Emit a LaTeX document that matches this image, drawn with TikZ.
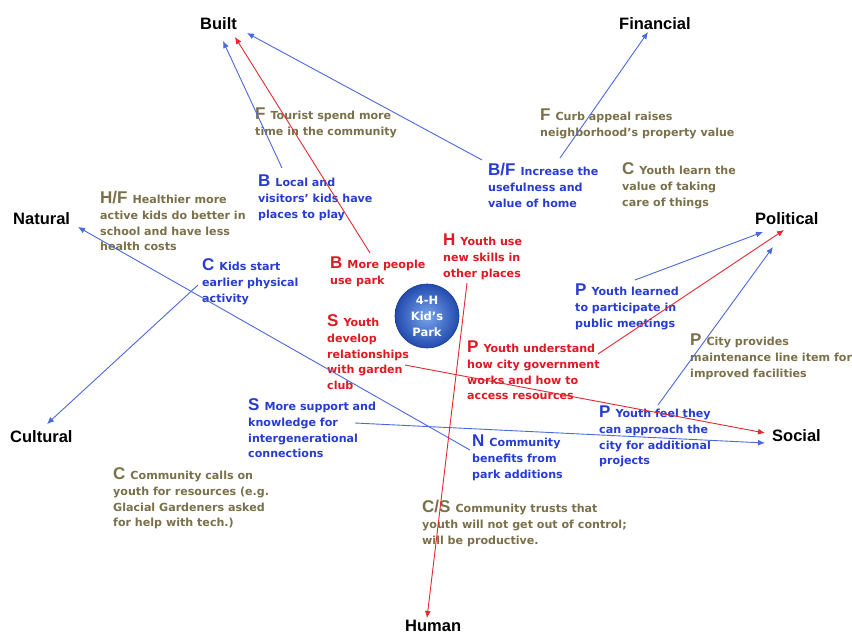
\documentclass[tikz,border=0pt]{standalone}
\usepackage{fontspec}
\setmainfont{DejaVu Sans}
\newfontfamily\bodyfont{DejaVu Sans}
\newfontfamily\headfont{Liberation Sans}
\usetikzlibrary{arrows.meta,shadings}

\definecolor{olv}{RGB}{122,112,74}
\definecolor{blu}{RGB}{40,60,210}
\definecolor{rd}{RGB}{222,25,35}
\definecolor{bline}{RGB}{75,105,220}
\definecolor{rline}{RGB}{228,40,50}
\definecolor{parkin}{RGB}{120,165,235}
\definecolor{parkout}{RGB}{35,75,175}

\newcommand{\pfx}[1]{{\headfont\bfseries\fontsize{17}{17}\selectfont #1}\kern5pt}
\newcommand{\blk}[1]{\begin{tabular}[t]{@{}l@{}}#1\end{tabular}}

\tikzset{
  x=1pt, y=-1pt,
  txt/.style={anchor=base west, inner sep=0pt, font=\bodyfont\bfseries\fontsize{11.1}{15.8}\selectfont},
  otxt/.style={txt, text=olv},
  btxt/.style={txt, text=blu},
  rtxt/.style={txt, text=rd},
  head/.style={anchor=base west, inner sep=0pt, font=\headfont\bfseries\fontsize{16.5}{18}\selectfont, text=black},
  barrow/.style={draw=bline, line width=0.9pt, -{Latex[length=7pt,width=6pt]}},
  rarrow/.style={draw=rline, line width=0.9pt, -{Latex[length=7pt,width=6pt]}},
}

\begin{document}
\begin{tikzpicture}
\useasboundingbox[fill=white] (0,0) rectangle (852,635);

% capitals
\node[head] (built) at (200,29) {Built};
\node[head] (financial) at (619,29) {Financial};
\node[head] (natural) at (13,224) {Natural};
\node[head] (political) at (755,224) {Political};
\node[head] (cultural) at (10,442) {Cultural};
\node[head] (social) at (772,441) {Social};
\node[head] (human) at (405,631) {Human};

% centre
\node[circle, minimum size=64pt, inner sep=0pt, shading=radial, inner color=parkin, outer color=parkout,
      draw=parkout!80!black, line width=0.6pt, text=white, align=center,
      font=\bodyfont\bfseries\fontsize{11.5}{16}\selectfont] (park) at (427,316) {4-H\\Kid’s\\Park};

% text blocks
\node[otxt] (t1) at (255,119.5) {\blk{\pfx{F}Tourist spend more\\time in the community}};
\node[btxt] (t2) at (258,186.5) {\blk{\pfx{B}Local and\\visitors’ kids have\\places to play}};
\node[otxt] (t3) at (100,203.5) {\blk{\pfx{H/F}Healthier more\\active kids do better in\\school and have less\\health costs}};
\node[btxt] (t4) at (202,270.5) {\blk{\pfx{C}Kids start\\earlier physical\\activity}};
\node[rtxt] (t5) at (330,268.5) {\blk{\pfx{B}More people\\use park}};
\node[rtxt] (t6) at (327,326.5) {\blk{\pfx{S}Youth\\develop\\relationships\\with garden\\club}};
\node[rtxt] (t7) at (443,245.5) {\blk{\pfx{H}Youth use\\new skills in\\other places}};
\node[btxt] (t8) at (488,175.5) {\blk{\pfx{B/F}Increase the\\usefulness and\\value of home}};
\node[otxt] (t9) at (540,120.5) {\blk{\pfx{F}Curb appeal raises\\neighborhood’s property value}};
\node[otxt] (t10) at (622,174.5) {\blk{\pfx{C}Youth learn the\\value of taking\\care of things}};
\node[btxt] (t11) at (575,295.5) {\blk{\pfx{P}Youth learned\\to participate in\\public meetings}};
\node[otxt] (t12) at (690,345.5) {\blk{\pfx{P}City provides\\maintenance line item for\\improved facilities}};
\node[rtxt] (t13) at (467,352.5) {\blk{\pfx{P}Youth understand\\how city government\\works and how to\\access resources}};
\node[btxt] (t14) at (599,417.5) {\blk{\pfx{P}Youth feel they\\can approach the\\city for additional\\projects}};
\node[btxt] (t15) at (248,410.5) {\blk{\pfx{S}More support and\\knowledge for\\intergenerational\\connections}};
\node[btxt] (t16) at (472,446.5) {\blk{\pfx{N}Community\\benefits from\\park additions}};
\node[otxt] (t17) at (113,479.5) {\blk{\pfx{C}Community calls on\\youth for resources (e.g.\\Glacial Gardeners asked\\for help with tech.)}};
\node[otxt] (t18) at (422,512.5) {\blk{\pfx{C/S}Community trusts that\\youth will not get out of control;\\will be productive.}};

% connector end points
\coordinate (s1) at (282,168);  \coordinate (e1) at (223,41);
\coordinate (s2) at (370,253);  \coordinate (e2) at (235,37);
\coordinate (s3) at (482,160);  \coordinate (e3) at (247,33);
\coordinate (s4) at (560,158);  \coordinate (e4) at (648,32);
\coordinate (s5) at (470,450);  \coordinate (e5) at (78,227);
\coordinate (s6) at (198,285);  \coordinate (e6) at (47,424);
\coordinate (s7) at (355,423);  \coordinate (e7) at (765,443);
\coordinate (s8) at (405,365);  \coordinate (e8) at (765,433);
\coordinate (s9) at (635,280);  \coordinate (e9) at (763,232);
\coordinate (s10) at (598,354); \coordinate (e10) at (784,230);
\coordinate (s11) at (658,405); \coordinate (e11) at (773,247);
\coordinate (s12) at (467,283); \coordinate (e12) at (427,618);

\draw[barrow] (s1) -- (e1);
\draw[rarrow] (s2) -- (e2);
\draw[barrow] (s3) -- (e3);
\draw[barrow] (s4) -- (e4);
\draw[barrow] (s5) -- (e5);
\draw[barrow] (s6) -- (e6);
\draw[barrow] (s7) -- (e7);
\draw[rarrow] (s8) -- (e8);
\draw[barrow] (s9) -- (e9);
\draw[rarrow] (s10) -- (e10);
\draw[barrow] (s11) -- (e11);
\draw[rarrow] (s12) -- (e12);
\end{tikzpicture}
\end{document}
